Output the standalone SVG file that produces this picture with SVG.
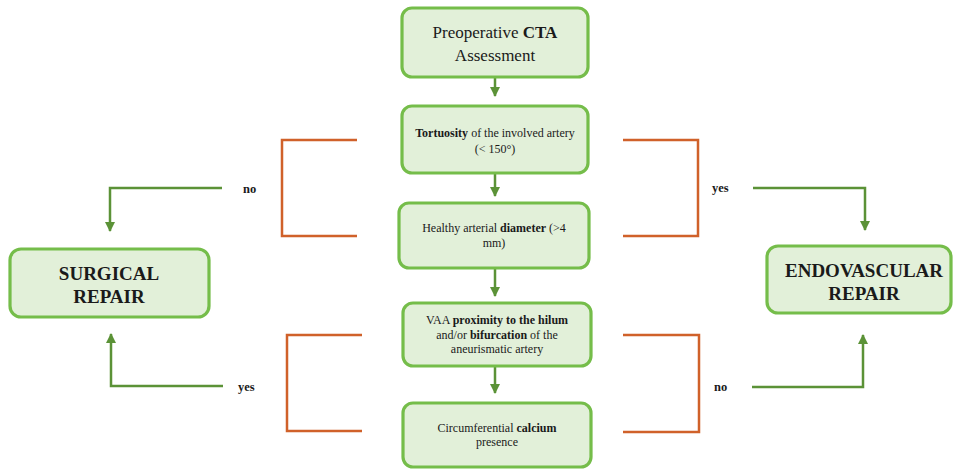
<svg xmlns="http://www.w3.org/2000/svg" width="954" height="470" viewBox="0 0 954 470">
<defs>
<marker id="ah" viewBox="0 0 10 10" refX="9" refY="5" markerWidth="4" markerHeight="4" orient="auto" markerUnits="strokeWidth">
<path d="M0,0 L10,5 L0,10 Z" fill="#5b9237"/>
</marker>
<style>
.box{fill:#e2f0d9;stroke:#75bd4a;stroke-width:3.2}
.t{font-family:"Liberation Serif","Times New Roman",serif;fill:#1a1a1a;text-anchor:middle}
.s{font-size:12px}
.m{font-size:17px}
.b{font-size:19px;font-weight:bold}
.lab{font-family:"Liberation Serif","Times New Roman",serif;font-size:12.5px;font-weight:bold;fill:#1a1a1a}
.g{fill:none;stroke:#5b9237;stroke-width:2.5}
.o{fill:none;stroke:#d0612a;stroke-width:2.5}
</style>
</defs>
<rect width="954" height="470" fill="#ffffff"/>
<g id="connectors">
<path class="g" d="M495,78 V96" marker-end="url(#ah)"/>
<path class="g" d="M495,174 V196" marker-end="url(#ah)"/>
<path class="g" d="M495,269 V296" marker-end="url(#ah)"/>
<path class="g" d="M495,367 V393" marker-end="url(#ah)"/>
<path class="o" d="M357,140 H282 V236 H357"/>
<path class="o" d="M623,140 H698 V236 H623"/>
<path class="o" d="M362,335 H287 V431 H362"/>
<path class="o" d="M623,335 H699 V432 H623"/>
<path class="g" d="M222,188 H110 V231" marker-end="url(#ah)"/>
<path class="g" d="M753,188 H865 V230" marker-end="url(#ah)"/>
<path class="g" d="M223,386 H111 V334" marker-end="url(#ah)"/>
<path class="g" d="M752,387 H863 V335" marker-end="url(#ah)"/>
<text class="lab" x="243" y="193">no</text>
<text class="lab" x="712" y="192">yes</text>
<text class="lab" x="238" y="391">yes</text>
<text class="lab" x="714" y="391">no</text>
</g>
<g id="n1">
<rect class="box" x="402" y="8" width="186" height="69" rx="10"/>
<text class="t m" x="495" y="38">Preoperative <tspan font-weight="bold">CTA</tspan></text>
<text class="t m" x="495" y="61">Assessment</text>
</g>
<g id="n2">
<rect class="box" x="402" y="106" width="186" height="67" rx="10"/>
<text class="t s" x="495" y="137"><tspan font-weight="bold">Tortuosity</tspan> of the involved artery</text>
<text class="t s" x="495" y="153">(&lt; 150°)</text>
</g>
<g id="n3">
<rect class="box" x="399" y="203" width="190" height="65" rx="10"/>
<text class="t s" x="494" y="232">Healthy arterial <tspan font-weight="bold">diameter</tspan> (&gt;4</text>
<text class="t s" x="494" y="247">mm)</text>
</g>
<g id="n4">
<rect class="box" x="403" y="303" width="188" height="63" rx="10"/>
<text class="t s" x="497" y="324">VAA <tspan font-weight="bold">proximity to the hilum</tspan></text>
<text class="t s" x="497" y="339">and/or <tspan font-weight="bold">bifurcation</tspan> of the</text>
<text class="t s" x="497" y="353">aneurismatic artery</text>
</g>
<g id="n5">
<rect class="box" x="403" y="403" width="188" height="64" rx="10"/>
<text class="t s" x="497" y="432">Circumferential <tspan font-weight="bold">calcium</tspan></text>
<text class="t s" x="497" y="446">presence</text>
</g>
<g id="surgical">
<rect class="box" x="10" y="249" width="199" height="68" rx="11"/>
<text class="t b" x="109" y="280">SURGICAL</text>
<text class="t b" x="109" y="303">REPAIR</text>
</g>
<g id="endovascular">
<rect class="box" x="767" y="246" width="184" height="67" rx="11"/>
<text class="t b" x="864" y="277">ENDOVASCULAR</text>
<text class="t b" x="864" y="300">REPAIR</text>
</g>
</svg>
